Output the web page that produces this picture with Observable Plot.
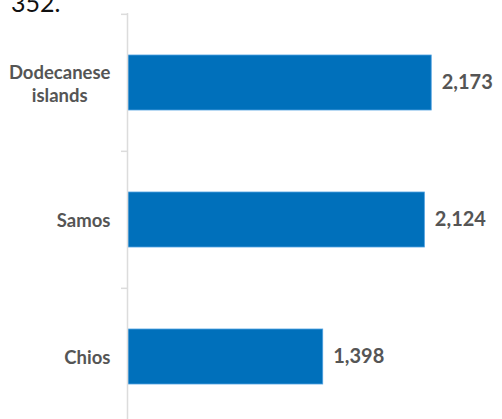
<!DOCTYPE html>
<html><head><meta charset="utf-8">
<script src="https://cdn.jsdelivr.net/npm/d3@7"></script>
<script src="https://cdn.jsdelivr.net/npm/@observablehq/plot@0.6"></script>
<style>
html,body{margin:0;padding:0;overflow:hidden;background:#fff;}
#wrap{position:relative;width:502px;height:419px;overflow:hidden;}
#title{position:absolute;left:11px;top:-13px;font:25px Lato, sans-serif;color:#111;line-height:30px;white-space:nowrap;}
#chart{position:absolute;left:0;top:0;}
</style></head><body>
<div id="wrap"><div id="title"></div><div id="chart"></div></div>
<script>
const titleText = "352.";
const categories = ["Dodecanese islands", "Samos", "Chios"];
const values = [2173, 2124, 1398];
const xDomain = [0, 2500];

document.getElementById("title").textContent = titleText;

const W = 502, H = 432, mT = 13, mB = 7, mL = 127, mR = 25;
const step = (H - mT - mB) / categories.length;
const data = categories.map((c, i) => ({c, v: values[i]}));
const fmt = d3.format(",");

const plot = Plot.plot({
  width: W, height: H,
  marginTop: mT, marginBottom: mB, marginLeft: mL, marginRight: mR,
  style: {fontFamily: "Lato, sans-serif", overflow: "visible", background: "transparent"},
  x: {domain: xDomain, axis: null},
  y: {domain: categories, paddingInner: 0.6, paddingOuter: 0.3, label: null},
  marks: [
    Plot.barX(data, {y: "c", x: "v", fill: "#0070bb", stroke: "#4ea0e0", strokeWidth: 0.8, insetLeft: 1}),
    Plot.axisY({tickSize: 6, dy: -step / 2, text: null, label: null, stroke: "#dcdcdc", strokeWidth: 1.5}),
    Plot.axisY({tickSize: 0, tickPadding: 17, label: null, fontSize: 18.5, fontWeight: "bold", fill: "#555", lineWidth: 6.5, lineHeight: 1.25}),
    Plot.ruleX([0], {stroke: "#dcdcdc", strokeWidth: 1.5}),
    Plot.text(data, {y: "c", x: "v", text: d => fmt(d.v), dx: 10, textAnchor: "start", fontSize: 20, fontWeight: "bold", fill: "#555"})
  ]
});
document.getElementById("chart").appendChild(plot);

// center wrapped lines of multi-line category labels relative to each other
plot.querySelectorAll("text").forEach(t => {
  const spans = t.querySelectorAll("tspan");
  if (spans.length > 1) {
    let w = 0;
    spans.forEach(s => { w = Math.max(w, s.getComputedTextLength()); });
    t.setAttribute("text-anchor", "middle");
    spans.forEach(s => s.setAttribute("x", -w / 2));
  }
});
</script>
</body></html>
